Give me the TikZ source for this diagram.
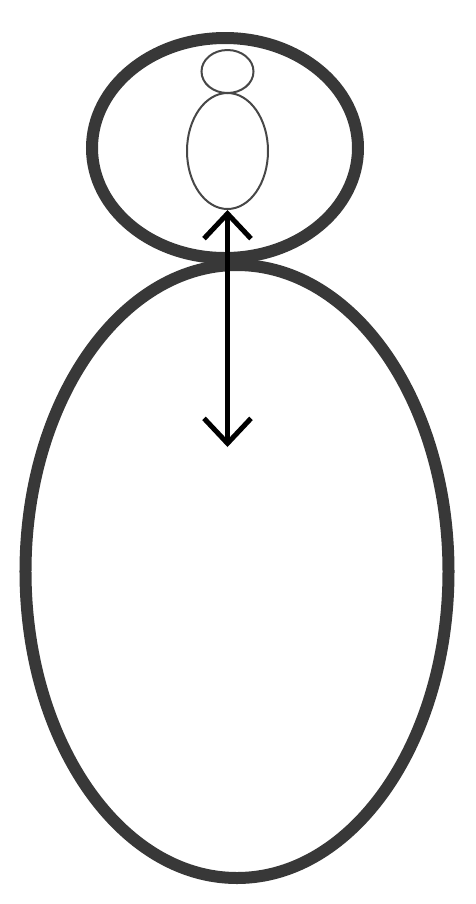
\documentclass[tikz,border=0pt]{standalone}
\usepackage{tikz}
\usetikzlibrary{positioning,shapes.geometric,arrows.meta}
\tikzstyle{ring}=[ellipse, draw=black!78, line width=2.4mm, inner sep=0pt]
\tikzstyle{figure}=[ellipse, draw=black!72, line width=0.4mm, inner sep=0pt]
\tikzstyle{myarrow}=[{Straight Barb[length=5mm,width=9.4mm]}-{Straight Barb[length=5mm,width=9.4mm]}, line width=1mm]

\begin{document}
\begin{tikzpicture}[x=0.2mm, y=-0.2mm]
    \useasboundingbox (0,0) rectangle (475,904);
    % outer rings
    \node (Upper) [ring, minimum width=53.2mm, minimum height=44mm] at (225,148) {};
    \node (Lower) [ring, minimum width=84.6mm, minimum height=122.6mm] at (237,571.5) {};
    % little figure
    \node (Body) [figure, minimum width=16.2mm, minimum height=23.2mm] at (227.5,151) {};
    \node (Head) [figure, minimum width=10.4mm, minimum height=8.6mm, above=-0.4mm of Body] {};
    \coordinate (Tip) at (227.5,447);
    \draw[myarrow] (Body.south) -- (Tip);
\end{tikzpicture}
\end{document}
